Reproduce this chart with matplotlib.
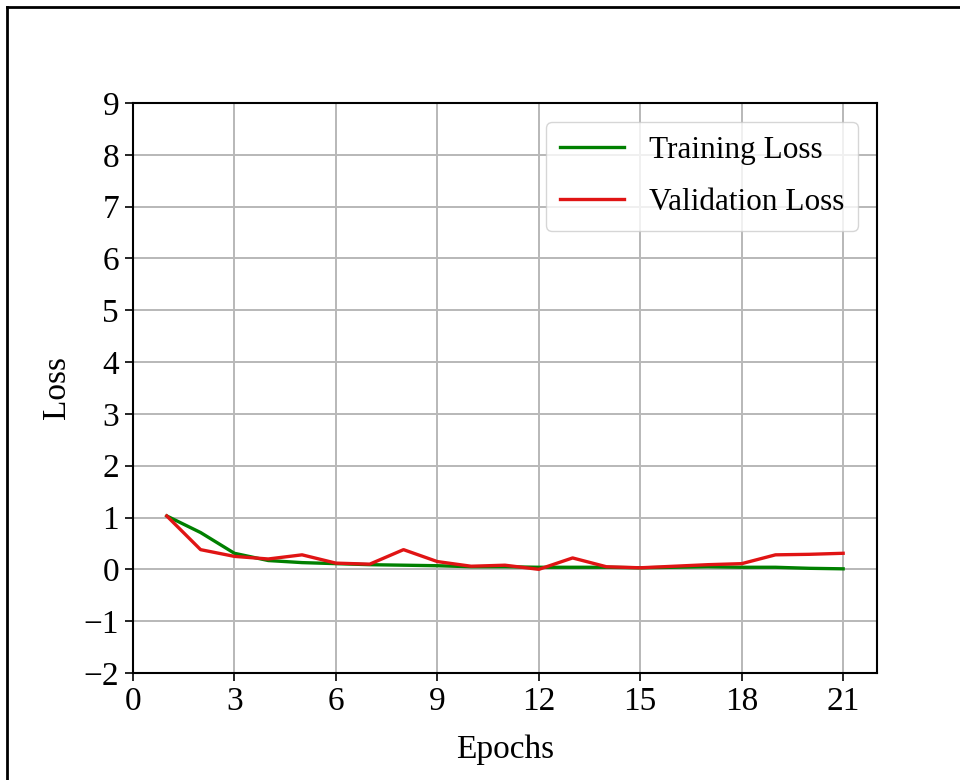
import matplotlib
matplotlib.use('Agg')
import matplotlib.pyplot as plt
from matplotlib.lines import Line2D

# loss values per epoch
epochs = list(range(1, 22))
train_loss = [1.03, 0.71, 0.31, 0.17, 0.13, 0.11, 0.09, 0.08, 0.07, 0.05,
              0.05, 0.04, 0.04, 0.04, 0.03, 0.04, 0.05, 0.04, 0.04, 0.02, 0.01]
val_loss = [1.03, 0.38, 0.25, 0.20, 0.28, 0.12, 0.10, 0.38, 0.15, 0.06,
            0.08, 0.00, 0.22, 0.05, 0.03, 0.06, 0.09, 0.11, 0.28, 0.29, 0.31]

plt.rcParams['font.family'] = ['Liberation Serif', 'DejaVu Serif']

fig = plt.figure(figsize=(9.6, 7.8), dpi=100)
ax = fig.add_axes([0.1385, 0.1372, 0.775, 0.7308])

ax.plot(epochs, train_loss, color='green', lw=2.4, label='Training Loss')
ax.plot(epochs, val_loss, color='#e01414', lw=2.4, label='Validation Loss')

ax.set_xlim(0, 22)
ax.set_ylim(-2, 9)
ax.set_xticks(range(0, 22, 3))
ax.set_yticks(range(-2, 10))
ax.grid(True, color='#b8b8b8', lw=1.4)
ax.set_axisbelow(True)

ax.tick_params(labelsize=24, length=6, width=1.2, pad=4)
for s in ax.spines.values():
    s.set_linewidth(1.5)

ax.set_xlabel('Epochs', fontsize=24, labelpad=12)
ax.set_ylabel('Loss', fontsize=24, labelpad=8)

ax.legend(loc='upper right', fontsize=22.5, borderaxespad=0.6,
          handlelength=2.05, handletextpad=0.8, labelspacing=0.75,
          borderpad=0.45, edgecolor='#cccccc')

# outer frame (top and left edges)
fig.add_artist(Line2D([7/960, 1.0], [1 - 7/780, 1 - 7/780],
                      transform=fig.transFigure, color='black', lw=2))
fig.add_artist(Line2D([7/960, 7/960], [0.0, 1 - 7/780],
                      transform=fig.transFigure, color='black', lw=2))

fig.savefig('out.png', dpi=100)
